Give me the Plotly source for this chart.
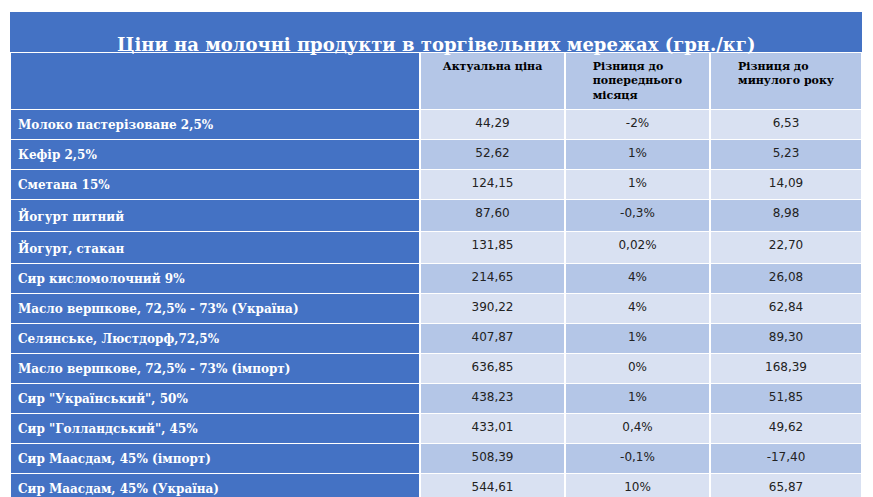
import plotly.graph_objects as go

title = "Ціни на молочні продукти в торгівельних мережах (грн./кг)"
headers = ["", "Актуальна ціна", "Різниця до<br>попереднього<br>місяця", "Різниця до<br>минулого року"]
products = ["Молоко пастерізоване 2,5%", "Кефір 2,5%", "Сметана 15%", "Йогурт питний", "Йогурт, стакан",
            "Сир кисломолочний 9%", "Масло вершкове, 72,5% - 73% (Україна)", "Селянське, Люстдорф,72,5%",
            "Масло вершкове, 72,5% - 73% (імпорт)", "Сир \"Український\", 50%", "Сир \"Голландський\", 45%",
            "Сир Маасдам, 45% (імпорт)", "Сир Маасдам, 45% (Україна)", "Сир Гауда, 45% (Україна)",
            "Сир Гауда, 45% (імпорт)", "Сир Моцарелла, 45% (Україна)", "Сир Моцарелла, 45% (імпорт)",
            "Сир Сулугуні, 45%"]
price = ["44,29", "52,62", "124,15", "87,60", "131,85", "214,65", "390,22", "407,87", "636,85", "438,23",
         "433,01", "508,39", "544,61", "448,13", "388,78", "433,15", "453,34", "411,78"]
mom = ["-2%", "1%", "1%", "-0,3%", "0,02%", "4%", "4%", "1%", "0%", "1%", "0,4%", "-0,1%", "10%", "6%",
       "0%", "4%", "1%", "30%"]
yoy = ["6,53", "5,23", "14,09", "8,98", "22,70", "26,08", "62,84", "89,30", "168,39", "51,85", "49,62",
       "-17,40", "65,87", "100,58", "-61,32", "141,37", "3,16", "100,96"]

# page body has an 8px margin, so the figure is offset by 8px
OFF = 8
W, H = 873 - OFF, 497 - OFF
x0, x1 = 10 - OFF, 862 - OFF
t0, t1 = 12 - OFF, 52 - OFF
dark = "#4472C4"
n = len(products)
alt = ["#D9E1F2" if i % 2 == 0 else "#B4C6E7" for i in range(n)]

fig = go.Figure(go.Table(
    domain=dict(x=[x0 / W, x1 / W], y=[0, 1 - t1 / H]),
    columnwidth=[410, 145, 145, 152],
    header=dict(values=[f"<b>{h}</b>" for h in headers],
                fill_color=[dark, "#B4C6E7", "#B4C6E7", "#B4C6E7"],
                line=dict(color="white", width=1.5),
                align="center", height=56,
                font=dict(family="DejaVu Serif", size=11, color="black")),
    cells=dict(values=[[f"<b>{p}</b>" for p in products], price, mom, yoy],
               fill_color=[[dark] * n, alt, alt, alt],
               line=dict(color="white", width=1.5),
               align=["left", "center", "center", "center"], height=20,
               font=dict(family=["DejaVu Serif", "DejaVu Sans", "DejaVu Sans", "DejaVu Sans"],
                         size=12, color=["white", "#222", "#222", "#222"])),
))
fig.add_shape(type="rect", xref="paper", yref="paper", x0=x0 / W, x1=x1 / W,
              y0=1 - t1 / H, y1=1 - t0 / H, fillcolor=dark, line=dict(color=dark, width=0), layer="above")
fig.add_annotation(text=f"<b>{title}</b>", xref="paper", yref="paper", x=(x0 + x1) / 2 / W,
                   y=1 - (t0 + t1) / 2 / H, showarrow=False,
                   font=dict(family="DejaVu Serif", size=18, color="white"))
fig.update_layout(width=W, height=H, margin=dict(l=0, r=0, t=0, b=0),
                  paper_bgcolor="white", plot_bgcolor="white")
fig.write_html("out.html")
